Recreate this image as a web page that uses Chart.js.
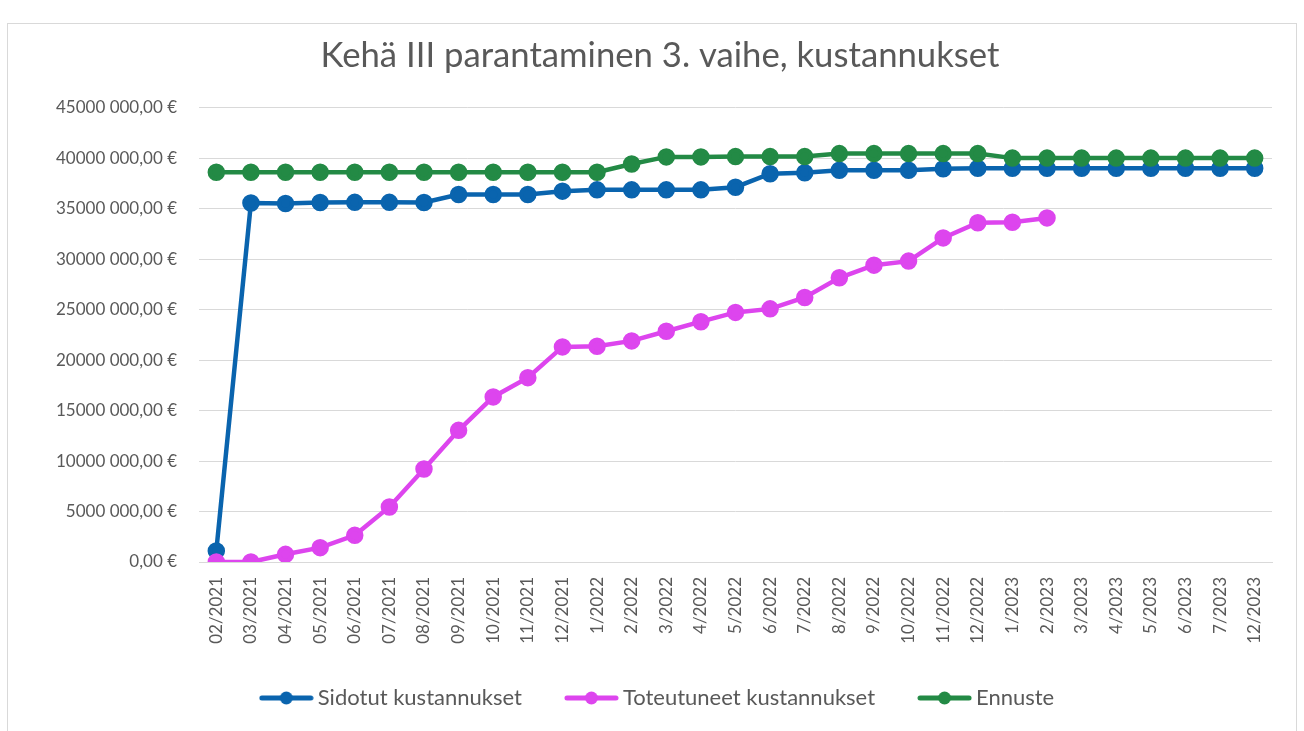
<!DOCTYPE html>
<html>
<head>
<meta charset="utf-8">
<script src="https://cdn.jsdelivr.net/npm/chart.js@4/dist/chart.umd.min.js"></script>
<style>
  html, body { margin:0; padding:0; background:#fff; }
  #wrap { position:relative; width:1304px; height:731px; overflow:hidden; }
  #frame { position:absolute; left:7px; top:23px; width:1290px; height:760px; border:1px solid #d9d9d9; box-sizing:border-box; }
  #Grafico1 { position:absolute; left:0; top:0; }
</style>
</head>
<body>
<div id="wrap">
  <div id="frame"></div>
  <canvas id="Grafico1" width="1304" height="731"></canvas>
</div>
<script>
// datos
const meses = ['02/2021','03/2021','04/2021','05/2021','06/2021','07/2021','08/2021','09/2021','10/2021','11/2021','12/2021',
  '1/2022','2/2022','3/2022','4/2022','5/2022','6/2022','7/2022','8/2022','9/2022','10/2022','11/2022','12/2022',
  '1/2023','2/2023','3/2023','4/2023','5/2023','6/2023','7/2023','12/2023'];
const sidotut = [1100000,35550000,35500000,35600000,35620000,35620000,35600000,36400000,36400000,36400000,36730000,
  36860000,36860000,36860000,36860000,37120000,38450000,38550000,38800000,38800000,38800000,38950000,39000000,
  39000000,39000000,39000000,39000000,39000000,39000000,39000000,39000000];
const toteutuneet = [0,0,760000,1420000,2640000,5450000,9210000,13040000,16350000,18260000,21300000,
  21370000,21900000,22850000,23800000,24720000,25070000,26200000,28150000,29400000,29800000,32100000,33600000,
  33650000,34080000];
const ennuste = [38600000,38600000,38600000,38600000,38600000,38600000,38600000,38600000,38600000,38600000,38600000,
  38600000,39420000,40120000,40120000,40150000,40150000,40150000,40450000,40450000,40450000,40450000,40450000,
  40000000,40000000,40000000,40000000,40000000,40000000,40000000,40000000];
const etiquetasY = ['0,00 €','5000 000,00 €','10000 000,00 €','15000 000,00 €','20000 000,00 €','25000 000,00 €',
  '30000 000,00 €','35000 000,00 €','40000 000,00 €','45000 000,00 €'];

const fuente = 'Lato';
const gris = '#595959';

// marca de leyenda: linea con punto
function marcaLeyenda(color){
    let c = document.createElement('canvas');
    c.width = 55; c.height = 16;
    let ctx = c.getContext('2d');
    ctx.strokeStyle = color;
    ctx.lineWidth = 5;
    ctx.lineCap = 'round';
    ctx.beginPath(); ctx.moveTo(3,8); ctx.lineTo(52,8); ctx.stroke();
    ctx.fillStyle = color;
    ctx.beginPath(); ctx.arc(27.5,8,6.5,0,Math.PI*2); ctx.fill();
    return c;
}

let serie = function(label, data, color, orden){
    return {
        label: label,
        data: data,
        borderColor: color,
        backgroundColor: color,
        pointBackgroundColor: color,
        pointBorderColor: color,
        borderWidth: 4.5,
        pointRadius: 6.5,
        pointHoverRadius: 6.5,
        tension: 0,
        fill: false,
        order: orden,
    };
};

let datos = {
    labels: meses,
    datasets: [
        serie('Sidotut kustannukset', sidotut, '#0a64ae', 2),
        serie('Toteutuneet kustannukset', toteutuneet, '#dd45ee', 1),
        serie('Ennuste', ennuste, '#238a45', 0),
    ]
};

let opciones = {
    responsive: false,
    animation: false,
    layout: { padding: { top: 35, right: 32, bottom: 12, left: 48 } },
    plugins: {
        title: {
            display: true,
            text: 'Kehä III parantaminen 3. vaihe, kustannukset',
            color: gris,
            font: { family: fuente, size: 34.7, weight: 'normal' },
            padding: { top: 0, bottom: 31 },
        },
        legend: {
            position: 'bottom',
            labels: {
                color: gris,
                font: { family: fuente, size: 22 },
                usePointStyle: true,
                pointStyleWidth: 41,
                padding: 49,
                sort: (a, b) => a.datasetIndex - b.datasetIndex,
                generateLabels: function(chart){
                    let items = Chart.defaults.plugins.legend.labels.generateLabels(chart);
                    items.forEach(it => {
                        it.pointStyle = marcaLeyenda(chart.data.datasets[it.datasetIndex].borderColor);
                    });
                    return items;
                }
            }
        },
        tooltip: { enabled: false },
    },
    scales: {
        x: {
            offset: true,
            grid: { display: false, drawTicks: false },
            border: { display: true, color: '#d9d9d9', width: 1 },
            ticks: {
                color: gris,
                font: { family: fuente, size: 17 },
                autoSkip: false,
                minRotation: 90,
                maxRotation: 90,
                padding: 15,
            },
            afterFit: function(scale){
                scale.height = 76;
                // las etiquetas giradas pasan por debajo de la caja, no recortar
                scale._computeLabelArea = function(){ return undefined; };
            }
        },
        y: {
            min: 0,
            max: 45000000,
            grid: { color: '#d9d9d9', lineWidth: 1, drawTicks: false },
            border: { display: false },
            ticks: {
                stepSize: 5000000,
                color: gris,
                font: { family: fuente, size: 17 },
                padding: 22,
                callback: function(value, index){ return etiquetasY[index]; }
            },
            afterFit: function(scale){ scale.width = 151; }
        }
    }
};

let G1 = new Chart(document.getElementById('Grafico1').getContext('2d'), {
    type: 'line',
    data: datos,
    options: opciones,
});
</script>
</body>
</html>
